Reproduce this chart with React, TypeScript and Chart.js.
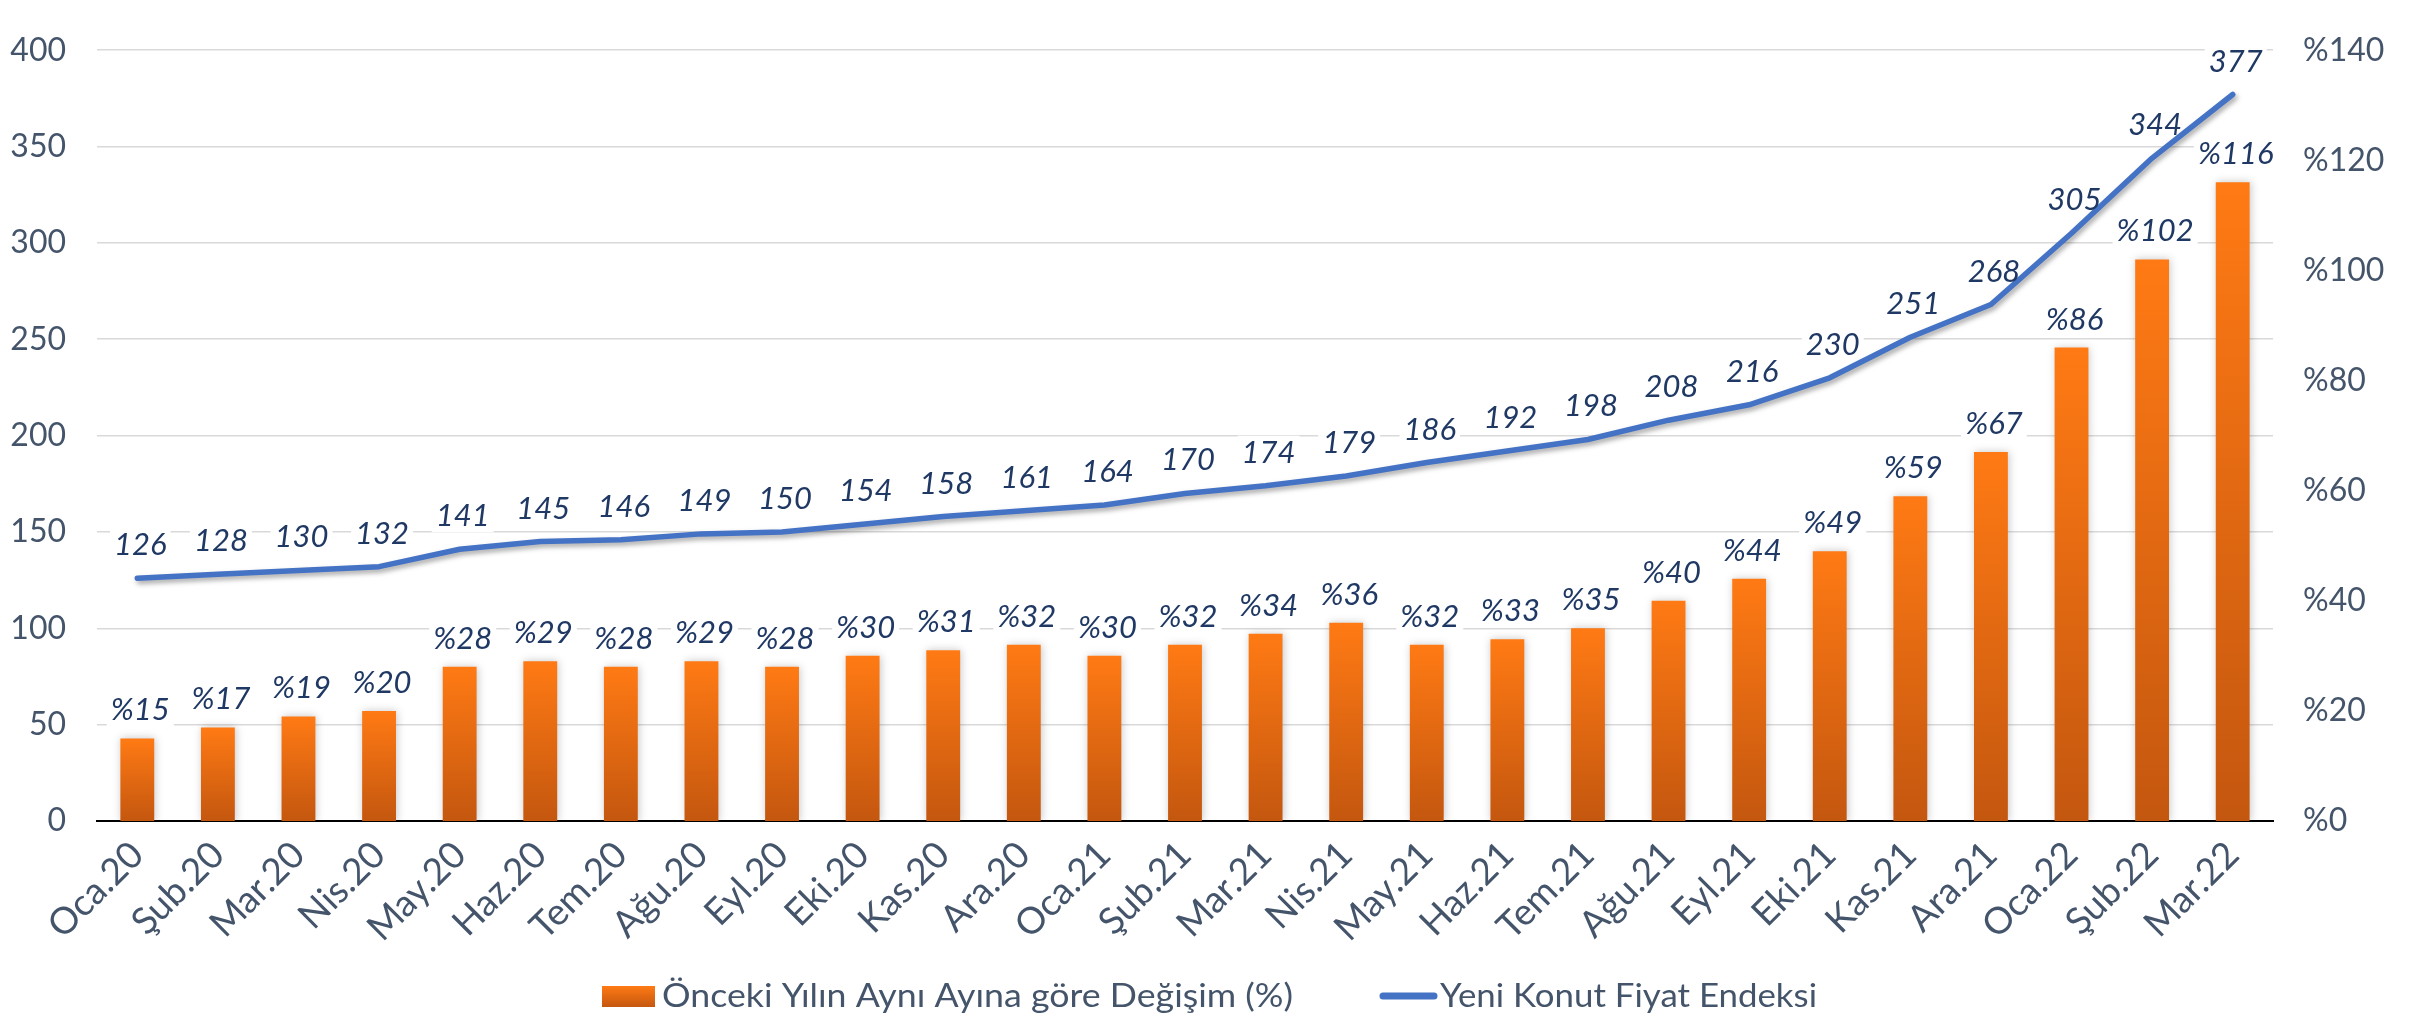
import React, { useEffect, useRef } from "react";
import { Chart, registerables } from "chart.js";

Chart.register(...registerables);

const categories = [
  "Oca.20", "Şub.20", "Mar.20", "Nis.20", "May.20", "Haz.20", "Tem.20", "Ağu.20", "Eyl.20",
  "Eki.20", "Kas.20", "Ara.20", "Oca.21", "Şub.21", "Mar.21", "Nis.21", "May.21", "Haz.21",
  "Tem.21", "Ağu.21", "Eyl.21", "Eki.21", "Kas.21", "Ara.21", "Oca.22", "Şub.22", "Mar.22",
];
const yoyChange = [15, 17, 19, 20, 28, 29, 28, 29, 28, 30, 31, 32, 30, 32, 34, 36, 32, 33, 35, 40, 44, 49, 59, 67, 86, 102, 116];
const priceIndex = [126, 128, 130, 132, 141, 145, 146, 149, 150, 154, 158, 161, 164, 170, 174, 179, 186, 192, 198, 208, 216, 230, 251, 268, 305, 344, 377];
const barLegend = "Önceki Yılın Aynı Ayına göre Değişim (%)";
const lineLegend = "Yeni Konut Fiyat Endeksi";

const TICK_COLOR = "#44546A";
const LABEL_COLOR = "#1F3864";
const LABEL_FONT = "italic 31px Lato";

function drawValueLabels(chart: any, background: boolean) {
  const ctx = chart.ctx;
  ctx.save();
  ctx.font = LABEL_FONT;
  ctx.textAlign = "center";
  ctx.textBaseline = "alphabetic";
  chart.data.datasets.forEach((ds: any, di: number) => {
    const meta = chart.getDatasetMeta(di);
    const isBar = meta.type === "bar";
    meta.data.forEach((el: any, i: number) => {
      const v = ds.data[i];
      const text = isBar ? "%" + v : String(v);
      const x = el.x + 3;
      const baseY = el.y - (isBar ? 18 : 23);
      const w = ctx.measureText(text).width;
      if (background) {
        ctx.fillStyle = "#ffffff";
        ctx.fillRect(x - w / 2 - 4, baseY - 27, w + 8, 33);
      } else {
        ctx.fillStyle = LABEL_COLOR;
        ctx.fillText(text, x, baseY);
      }
    });
  });
  ctx.restore();
}

const labelPlugin = {
  id: "valueLabels",
  beforeDatasetsDraw(chart: any) {
    drawValueLabels(chart, true);
  },
  afterDatasetsDraw(chart: any) {
    drawValueLabels(chart, false);
  },
};

const shadowPlugin = {
  id: "shadows",
  beforeDatasetDraw(chart: any, args: any) {
    const ctx = chart.ctx;
    ctx.save();
    if (args.meta.type === "bar") {
      ctx.shadowColor = "rgba(0,0,0,0.22)";
      ctx.shadowBlur = 8;
      ctx.shadowOffsetX = 1;
      ctx.shadowOffsetY = 0;
    } else {
      ctx.shadowColor = "rgba(0,0,0,0.35)";
      ctx.shadowBlur = 5;
      ctx.shadowOffsetX = 2;
      ctx.shadowOffsetY = 3;
    }
  },
  afterDatasetDraw(chart: any) {
    chart.ctx.restore();
  },
};

function fittedText(ctx: any, text: string, x: number, y: number, width: number) {
  const w = ctx.measureText(text).width;
  ctx.save();
  ctx.translate(x, y);
  ctx.scale(width / w, 1);
  ctx.fillText(text, 0, 0);
  ctx.restore();
}

const legendPlugin = {
  id: "customLegend",
  afterDraw(chart: any) {
    const ctx = chart.ctx;
    ctx.save();
    const boxTop = 986;
    const g = ctx.createLinearGradient(0, boxTop, 0, boxTop + 21);
    g.addColorStop(0, "#FF7A14");
    g.addColorStop(1, "#C4570F");
    ctx.fillStyle = g;
    ctx.fillRect(602, boxTop, 53, 21);

    ctx.font = "33px Lato";
    ctx.fillStyle = TICK_COLOR;
    ctx.textBaseline = "alphabetic";
    ctx.textAlign = "left";
    fittedText(ctx, barLegend, 662, 1007, 631);

    ctx.strokeStyle = "#4472C4";
    ctx.lineWidth = 7;
    ctx.lineCap = "round";
    ctx.beginPath();
    ctx.moveTo(1383, 996);
    ctx.lineTo(1434, 996);
    ctx.stroke();

    fittedText(ctx, lineLegend, 1440, 1007, 377);
    ctx.restore();
  },
};

function barGradient(c: any) {
  const chart = c.chart;
  const scale = chart.scales ? chart.scales["y1"] : null;
  if (!chart.chartArea || !scale || c.type !== "data") return "#E8700F";
  const top = scale.getPixelForValue(c.raw);
  const bottom = scale.getPixelForValue(0);
  if (!isFinite(top) || !isFinite(bottom) || bottom - top < 1) return "#E8700F";
  const g = chart.ctx.createLinearGradient(0, top, 0, bottom);
  g.addColorStop(0, "#FF7A14");
  g.addColorStop(1, "#C4570F");
  return g;
}

export default function App() {
  const canvasRef = useRef<HTMLCanvasElement | null>(null);

  useEffect(() => {
    const canvas = canvasRef.current;
    if (!canvas) return;
    const chart = new Chart(canvas, {
      type: "bar",
      data: {
        labels: categories,
        datasets: [
          {
            type: "line",
            label: lineLegend,
            data: priceIndex,
            yAxisID: "y",
            borderColor: "#4472C4",
            backgroundColor: "#4472C4",
            borderWidth: 5.5,
            pointRadius: 0,
            tension: 0,
            fill: false,
            borderCapStyle: "round",
            borderJoinStyle: "round",
            order: 0,
          } as any,
          {
            type: "bar",
            label: barLegend,
            data: yoyChange,
            yAxisID: "y1",
            backgroundColor: barGradient,
            barPercentage: 0.42,
            categoryPercentage: 1,
            order: 1,
          } as any,
        ],
      },
      options: {
        responsive: false,
        animation: false,
        devicePixelRatio: 1,
        layout: { padding: { top: 19, bottom: 60, left: 0, right: 0 } },
        plugins: {
          legend: { display: false },
          tooltip: { enabled: false },
        },
        scales: {
          x: {
            grid: { display: false, drawTicks: false },
            border: { display: true, color: "#000000", width: 2 },
            ticks: {
              color: TICK_COLOR,
              font: { family: "Lato", size: 37 },
              maxRotation: 45,
              minRotation: 45,
              autoSkip: false,
              padding: 12,
            },
            afterFit: (s: any) => {
              s.height = 138;
            },
          },
          y: {
            position: "left",
            min: 0,
            max: 400,
            ticks: {
              stepSize: 50,
              color: TICK_COLOR,
              font: { family: "Lato", size: 32 },
              padding: 31,
            },
            grid: { color: "#D9D9D9", lineWidth: 1.5, drawTicks: false },
            border: { display: false },
            afterFit: (s: any) => {
              s.width = 97;
            },
          },
          y1: {
            position: "right",
            min: 0,
            max: 140,
            ticks: {
              stepSize: 20,
              color: TICK_COLOR,
              font: { family: "Lato", size: 32 },
              padding: 30,
              callback: (v: any) => "%" + v,
            },
            grid: { display: false, drawTicks: false },
            border: { display: false },
            afterFit: (s: any) => {
              s.width = 142;
            },
          },
        },
      } as any,
      plugins: [shadowPlugin, labelPlugin, legendPlugin],
    });
    return () => chart.destroy();
  }, []);

  return (
    <div style={{ position: "absolute", left: 0, top: 0, width: 2415, height: 1019, background: "#fff" }}>
      <canvas ref={canvasRef} width={2415} height={1019} style={{ display: "block" }} />
    </div>
  );
}
